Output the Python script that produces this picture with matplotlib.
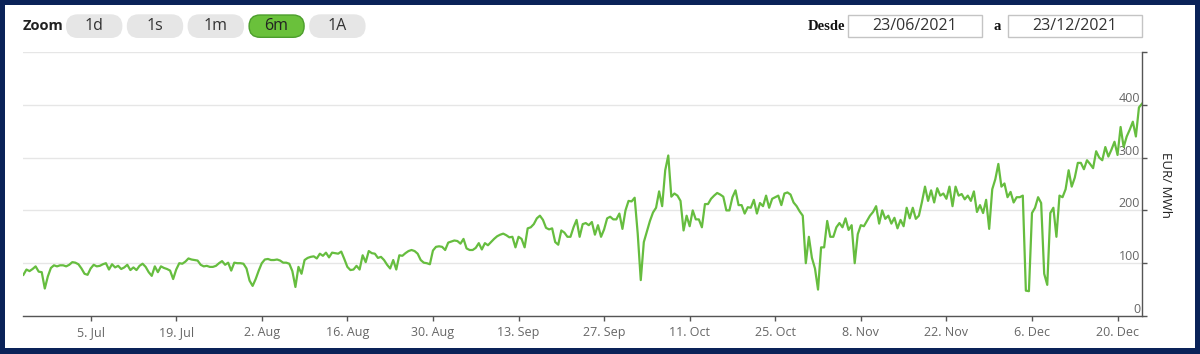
import pandas as pd
import matplotlib
matplotlib.use('Agg')
import matplotlib.pyplot as plt
from matplotlib.patches import FancyBboxPatch, Rectangle

plt.rcParams['font.family'] = ['Open Sans', 'DejaVu Sans']

# precio (EUR/MWh), un valor cada 12 h desde el 24/06/2021 00:00
jun = [78, 88, 85, 89, 94, 84, 83, 52, 75, 91, 96, 94, 96, 96]
jul = [94, 97, 102, 101, 98, 90, 80, 78, 90, 97, 94, 95, 98, 100, 88, 98,
       92, 95, 89, 92, 97, 87, 92, 87, 95, 99, 93, 83, 76, 94, 83, 94,
       91, 89, 86, 70, 88, 100, 99, 103, 109, 107, 106, 105, 97, 94, 95, 93,
       93, 95, 100, 104, 97, 101, 86, 101, 100, 100, 99, 90, 67, 57]
aug = [70, 86, 100, 107, 108, 106, 106, 107, 105, 101, 101, 99, 85, 55, 93, 80,
       106, 110, 112, 113, 109, 118, 114, 120, 111, 120, 119, 118, 122, 108, 93, 87,
       88, 95, 88, 115, 102, 123, 119, 118, 110, 112, 106, 97, 90, 106, 88, 115,
       114, 119, 123, 125, 123, 118, 106, 101, 100, 98, 124, 131, 132, 131]
sep = [125, 139, 141, 143, 142, 137, 146, 128, 125, 125, 129, 138, 126, 138, 134, 140,
       146, 151, 154, 156, 153, 149, 150, 130, 150, 146, 130, 166, 168, 174, 185, 190,
       182, 167, 164, 166, 140, 135, 162, 158, 150, 150, 168, 182, 150, 174, 176, 172,
       178, 154, 172, 150, 164, 185, 188, 183, 183, 194, 165, 200]
oct_ = [218, 217, 224, 156, 68, 140, 160, 180, 196, 205, 236, 208, 276, 304, 226, 232,
        228, 218, 162, 190, 170, 200, 183, 183, 168, 212, 212, 222, 228, 233, 230, 226,
        200, 200, 225, 238, 210, 210, 194, 206, 205, 220, 194, 214, 208, 228, 205, 222,
        225, 228, 210, 232, 234, 230, 215, 208, 198, 190, 100, 150, 110, 90]
nov = [50, 130, 130, 180, 150, 150, 168, 176, 168, 185, 163, 172, 100, 155, 172, 170,
       180, 190, 197, 208, 175, 200, 184, 190, 175, 186, 166, 182, 170, 205, 185, 205,
       184, 190, 216, 245, 218, 238, 215, 242, 228, 232, 222, 245, 208, 245, 228, 231,
       221, 228, 218, 236, 197, 210, 195, 220, 165, 240, 259, 288]
dec = [245, 251, 225, 235, 215, 225, 225, 228, 48, 47, 195, 205, 225, 214, 80, 59,
       195, 205, 150, 228, 225, 240, 276, 245, 262, 290, 290, 278, 295, 288, 280, 312,
       300, 295, 320, 302, 315, 330, 305, 358, 320, 340, 353, 368, 340, 395, 402]

tick_dates = ['2021-07-05', '2021-07-19', '2021-08-02', '2021-08-16', '2021-08-30',
              '2021-09-13', '2021-09-27', '2021-10-11', '2021-10-25', '2021-11-08',
              '2021-11-22', '2021-12-06', '2021-12-20']
tick_labels = ['5. Jul', '19. Jul', '2. Aug', '16. Aug', '30. Aug', '13. Sep',
               '27. Sep', '11. Oct', '25. Oct', '8. Nov', '22. Nov', '6. Dec', '20. Dec']
y_ticks = [0, 100, 200, 300, 400, 500]
y_labels = ['0', '100', '200', '300', '400', '']
buttons = ['1d', '1s', '1m', '6m', '1A']
active = '6m'
date_from = '23/06/2021'
date_to = '23/12/2021'

price = jun + jul + aug + sep + oct_ + nov + dec
times = pd.date_range('2021-06-24', periods=len(price), freq='12h')

W, H = 1200, 354
fig = plt.figure(figsize=(W / 100, H / 100), dpi=100, facecolor='#0a2258')

# capa en pixeles para marco, botones y fechas
bg = fig.add_axes([0, 0, 1, 1])
bg.set_xlim(0, W)
bg.set_ylim(H, 0)
bg.axis('off')
bg.add_patch(Rectangle((5, 5), 1190, 343, facecolor='white', edgecolor='none'))

bg.text(23, 26.5, 'Zoom', ha='left', va='center', fontsize=10.5, fontweight='bold', color='#222')
for k, b in enumerate(buttons):
    x0 = 66.7 + k * 60.8
    on = b == active
    bg.add_patch(FancyBboxPatch((x0, 15), 55, 22.3, boxstyle='round,pad=0,rounding_size=11',
                                facecolor='#6ac13b' if on else '#e6e6e6',
                                edgecolor='#4c9e2c' if on else '#e6e6e6', lw=1))
    bg.text(x0 + 27.5, 26.5, b, ha='center', va='center', fontsize=11.5, color='#222' if on else '#333')

serif = ['Liberation Serif', 'DejaVu Serif']
bg.text(845, 26.5, 'Desde', ha='right', va='center', fontsize=10.5, fontweight='bold', family=serif, color='#111')
bg.text(997.5, 26.5, 'a', ha='center', va='center', fontsize=10.5, fontweight='bold', family=serif, color='#111')
for x0, s in [(848.3, date_from), (1008.3, date_to)]:
    bg.add_patch(Rectangle((x0, 15), 133.4, 22.3, facecolor='white', edgecolor='#c4c4c4', lw=1))
    bg.text(x0 + 66.7, 26.5, s, ha='center', va='center', fontsize=11.5, color='#333')

bg.text(1165, 185, 'EUR/ MWh', rotation=270, ha='center', va='center', fontsize=9.5, color='#222')

# grafico
ax = fig.add_axes([23.4 / W, (H - 316) / H, (1142 - 23.4) / W, (316 - 52) / H])
ax.set_facecolor('none')
ax.plot(times, price, color='#66bd3f', lw=1.6, solid_joinstyle='round')
ax.set_xlim(pd.Timestamp('2021-06-24'), pd.Timestamp('2021-12-24'))
ax.set_ylim(0, 500)

ax.set_xticks(pd.to_datetime(tick_dates))
ax.set_xticklabels(tick_labels)
ax.yaxis.tick_right()
ax.set_yticks(y_ticks)
ax.tick_params(axis='x', direction='out', length=3.6, width=1, color='#555',
               labelcolor='#666', labelsize=9, pad=3.5)
ax.tick_params(axis='y', direction='out', length=3.6, width=1, color='#555',
               labelcolor='#666', labelsize=9, pad=-5)
ax.set_yticklabels(y_labels)
for lab in ax.get_yticklabels():
    lab.set_horizontalalignment('right')
    lab.set_verticalalignment('bottom')

ax.grid(axis='y', color='#e6e6e6', lw=1)
ax.set_axisbelow(True)
for s in ['left', 'top']:
    ax.spines[s].set_visible(False)
for s in ['right', 'bottom']:
    ax.spines[s].set_color('#555')
    ax.spines[s].set_linewidth(1)

fig.savefig('out.png', dpi=100, facecolor=fig.get_facecolor())
